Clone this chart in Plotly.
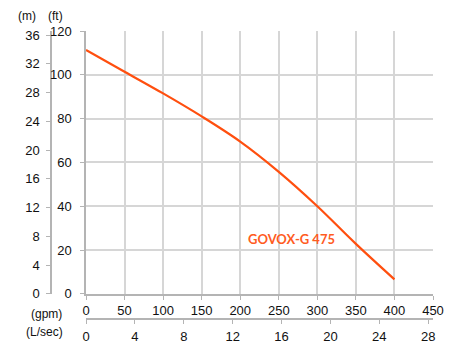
import plotly.graph_objects as go

# Data
flow_gpm = [0, 50, 100, 150, 200, 250, 300, 350, 400]
head_ft = [111.3, 101.4, 91.5, 81.0, 69.5, 55.7, 40.0, 22.8, 6.6]
series_name = "GOVOX-G 475"

gpm_ticks = [0, 50, 100, 150, 200, 250, 300, 350, 400, 450]
ft_ticks = [0, 20, 40, 60, 80, 100, 120]
m_ticks = [0, 4, 8, 12, 16, 20, 24, 28, 32, 36]
lps_ticks = [0, 4, 8, 12, 16, 20, 24, 28]

FT_PER_M = 3.28084
GPM_PER_LPS = 15.850

# page body has an 8px default margin: lay out in screen pixels, then offset
OFF = 8
W, H = 454 - OFF, 360 - OFF
ML = 51 - OFF            # m-axis line
MT = 31 - OFF            # top of plot (120 ft)
MR = W - (433 - OFF)     # right edge of plot
MB = H - (319 - OFF)     # L/sec axis line
PW = W - ML - MR
PH = H - MT - MB
x_dom0 = (86 - 51) / PW
y_dom0 = (319 - 293.8) / PH

line_col = "#ff4f0f"
text_col = "#ff5c1f"
axis_col = "#b4b4b4"
grid_col = "#d6d6d6"
tick_font = dict(family="Liberation Sans, Arial, sans-serif", size=13, color="#111111")

fig = go.Figure()
fig.add_trace(go.Scatter(
    x=flow_gpm, y=head_ft, mode="lines", name=series_name,
    line=dict(color=line_col, width=2.2, shape="spline", smoothing=1.0),
    xaxis="x", yaxis="y", showlegend=False,
))
# invisible traces to activate secondary axes
fig.add_trace(go.Scatter(x=[0], y=[0], mode="markers", marker=dict(opacity=0),
                         xaxis="x", yaxis="y2", showlegend=False, hoverinfo="skip"))
fig.add_trace(go.Scatter(x=[0], y=[0], mode="markers", marker=dict(opacity=0),
                         xaxis="x2", yaxis="y", showlegend=False, hoverinfo="skip"))

common = dict(showline=True, linecolor=axis_col, linewidth=1.5, ticks="outside",
              ticklen=4, tickcolor=axis_col, zeroline=False, tickfont=tick_font,
              automargin=False)

fig.update_layout(
    width=W, height=H,
    margin=dict(l=ML, r=MR, t=MT, b=MB, pad=0, autoexpand=False),
    paper_bgcolor="white", plot_bgcolor="white",
    font=tick_font,
    xaxis=dict(
        domain=[x_dom0, 1], range=[0, 450], tickvals=gpm_ticks,
        showgrid=True, gridcolor=grid_col, gridwidth=1.5,
        ticklabelstandoff=0, anchor="y", **common,
    ),
    yaxis=dict(
        domain=[y_dom0, 1], range=[0, 120], tickvals=ft_ticks,
        showgrid=True, gridcolor=grid_col, gridwidth=1.5,
        ticklabelstandoff=6, anchor="x", **common,
    ),
    yaxis2=dict(
        domain=[y_dom0, 1], range=[0, 120 / FT_PER_M], tickvals=m_ticks,
        overlaying="y", anchor="free", position=0, side="left",
        showgrid=False, ticklabelstandoff=4, **common,
    ),
    xaxis2=dict(
        domain=[x_dom0, 1], range=[0, 450 / GPM_PER_LPS], tickvals=lps_ticks,
        overlaying="x", anchor="free", position=0, side="bottom",
        showgrid=False, ticklabelstandoff=2, **common,
    ),
)

def px(x):  # screen x -> paper fraction
    return (x - 51) / PW

def py(y):  # screen y -> paper fraction
    return (319 - y) / PH

unit_font = dict(family="Liberation Sans, Arial, sans-serif", size=12, color="#111111")
top = 1 + MT / PH
for txt, x in [("(m)", 27), ("(ft)", 55)]:
    fig.add_annotation(text=txt, x=px(x), y=top, xref="paper", yref="paper",
                       showarrow=False, xanchor="center", yanchor="top",
                       borderpad=0, font=unit_font)
for txt, x, y in [("(gpm)", 46, 314), ("(L/sec)", 44, 332)]:
    fig.add_annotation(text=txt, x=px(x), y=py(y), xref="paper", yref="paper",
                       showarrow=False, xanchor="center", yanchor="middle", font=unit_font)

fig.add_annotation(text="<b>" + series_name + "</b>", x=267, y=25, xref="x", yref="y",
                   showarrow=False, xanchor="center", yanchor="middle",
                   font=dict(family="Lato, Open Sans, sans-serif", size=13, color=text_col))

fig.write_html("out.html")
